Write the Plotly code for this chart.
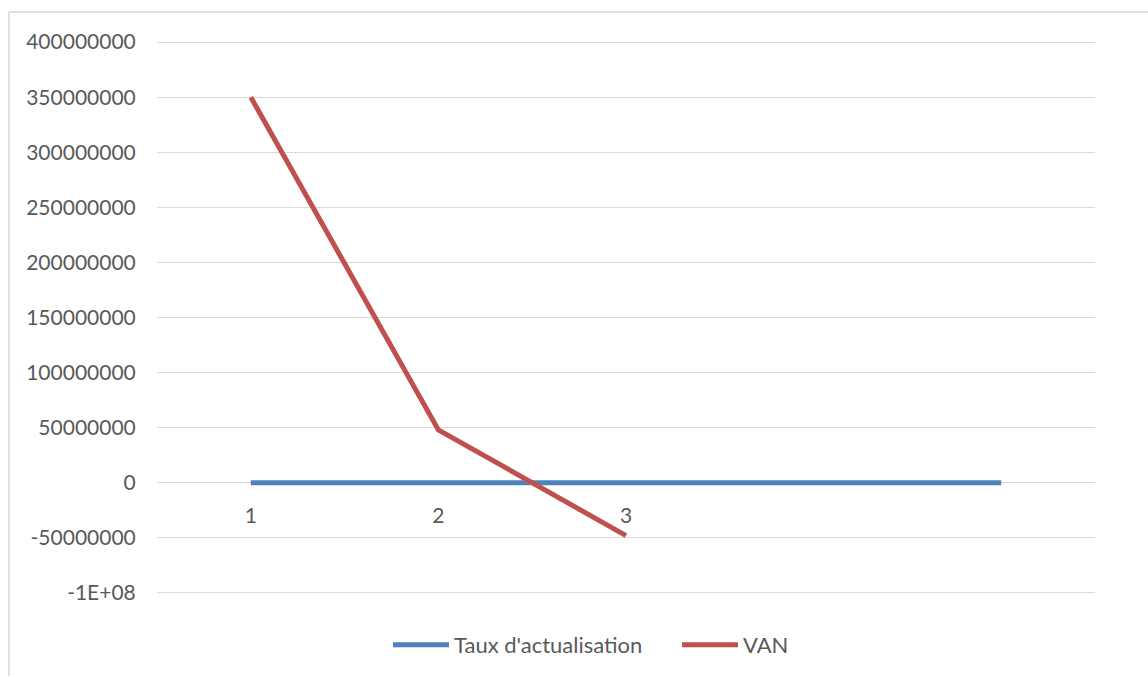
import plotly.graph_objects as go

categories = [1, 2, 3, 4, 5]
category_labels = ["1", "2", "3", "", ""]
taux = [0.10, 0.12, 0.14, 0.16, 0.18]
van = [350000000, 48000000, -48000000, None, None]

y_tickvals = [-100000000, -50000000, 0, 50000000, 100000000, 150000000,
              200000000, 250000000, 300000000, 350000000, 400000000]
y_ticktext = ["-1E+08", "-50000000", "0", "50000000", "100000000", "150000000",
              "200000000", "250000000", "300000000", "350000000", "400000000"]

W, H = 1148, 677
L, R, T, B = 157, 53, 41, 82
pw, ph = W - L - R, H - T - B

font_family = "Lato, 'Open Sans', sans-serif"
text_color = "#595959"

fig = go.Figure()
fig.add_trace(go.Scatter(x=categories, y=taux, mode="lines", name="Taux d'actualisation",
                         line=dict(color="#4f81bd", width=5), legend="legend"))
fig.add_trace(go.Scatter(x=categories, y=van, mode="lines", name="VAN",
                         line=dict(color="#c0504d", width=5), legend="legend2"))

ymin, ymax = -100000000, 400000000
pad = 0.002 * (ymax - ymin)
zero_frac = (0 - ymin + pad) / (ymax - ymin + 2 * pad)

leg_y = (H - B - 645) / ph
fig.update_layout(
    width=W, height=H,
    margin=dict(l=L, r=R, t=T, b=B),
    paper_bgcolor="white", plot_bgcolor="white",
    font=dict(family=font_family, size=21, color=text_color),
    xaxis=dict(range=[0.5, 5.5], tickvals=categories, ticktext=category_labels,
               showgrid=False, zeroline=False, showline=False,
               anchor="free", position=zero_frac,
               ticks="outside", ticklen=14, tickcolor="rgba(0,0,0,0)",
               tickfont=dict(size=21, color=text_color)),
    yaxis=dict(range=[ymin - pad, ymax + pad], tickvals=y_tickvals, ticktext=y_ticktext,
               showgrid=True, gridcolor="#d9d9d9", gridwidth=1,
               zeroline=False, showline=False,
               ticks="outside", ticklen=16, tickcolor="rgba(0,0,0,0)",
               tickfont=dict(size=21, color=text_color)),
    legend=dict(orientation="h", x=(388 - L) / pw, xanchor="left", y=leg_y,
                yanchor="middle", font=dict(size=22, color=text_color), itemwidth=56),
    legend2=dict(orientation="h", x=(677 - L) / pw, xanchor="left", y=leg_y,
                 yanchor="middle", font=dict(size=22, color=text_color), itemwidth=56),
    showlegend=True,
)

# chart-area border (cropped at right and bottom in the reference)
bx = (9 - L) / pw
by = 1 + (T - 12) / ph
fig.add_shape(type="line", xref="paper", yref="paper", x0=bx, x1=(W - L) / pw, y0=by, y1=by,
              line=dict(color="#d9d9d9", width=1.5))
fig.add_shape(type="line", xref="paper", yref="paper", x0=bx, x1=bx, y0=by, y1=-(B) / ph,
              line=dict(color="#d9d9d9", width=1.5))

fig.write_html("out.html", config={"displayModeBar": False},
               post_script="document.body.style.margin='0px';")
